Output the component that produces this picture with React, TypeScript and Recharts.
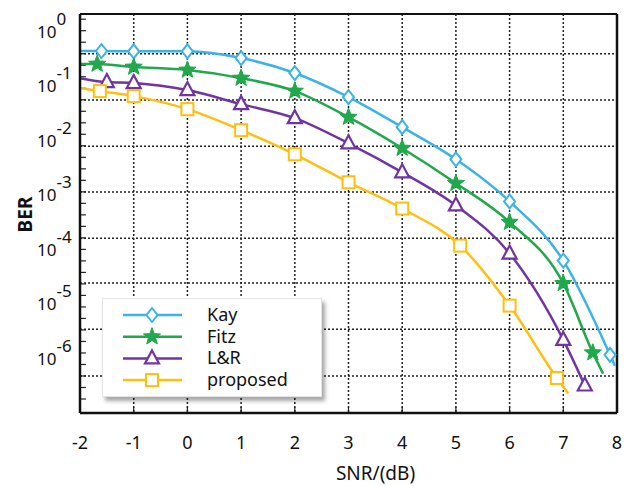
import { LineChart, Line, XAxis, YAxis, CartesianGrid, ReferenceLine, Legend, Label } from 'recharts';

const FONT = '"Noto Sans", "Open Sans", sans-serif';

// axis ticks
const snrTicks = [-2, -1, 0, 1, 2, 3, 4, 5, 6, 7, 8];
const berTicks = [1, 1e-1, 1e-2, 1e-3, 1e-4, 1e-5, 1e-6];
// dotted horizontal grid (log10 of BER), not aligned with the decade labels in the original
const gridExps = [-0.4, -1.25, -2.1, -2.94, -3.79, -4.61, -5.46, -6.32];

const BER_MIN = 1e-7;
const BER_MAX = Math.pow(10, 0.33);

// series values (first point = curve start, no marker)
const kaySnr = [-2, -1.6, -1, 0, 1, 2, 3, 4, 5, 6, 7, 7.87, 7.96];
const kayBer = [0.447, 0.447, 0.44, 0.44, 0.332, 0.176, 0.0635, 0.0178, 0.00458, 7.7e-4, 6.3e-5, 1.17e-6, 7.4e-7];

const fitzSnr = [-2, -1.68, -1, 0, 1, 2, 3, 4, 5, 6, 7, 7.55, 7.74];
const fitzBer = [0.257, 0.257, 0.227, 0.2, 0.142, 0.082, 0.0272, 0.0073, 0.00166, 3.2e-4, 2.4e-5, 1.28e-6, 5.3e-7];

const lrSnr = [-2, -1.5, -1, 0, 1, 2, 3, 4, 5, 6, 7, 7.4];
const lrBer = [0.142, 0.12, 0.115, 0.0855, 0.0472, 0.0261, 0.009, 0.00264, 6.5e-4, 8.5e-5, 2.2e-6, 3.2e-7];

const propSnr = [-2, -1.63, -1, 0, 1, 2, 3, 4, 5.08, 6, 6.88, 7.09];
const propBer = [0.0931, 0.0819, 0.0663, 0.0382, 0.0157, 0.00566, 0.00173, 5.7e-4, 1.19e-4, 9.4e-6, 4.4e-7, 2.3e-7];

const toPoints = (snr: number[], ber: number[]) => snr.map((s, i) => ({ snr: s, ber: ber[i] }));

const series = [
    { name: 'Kay', color: '#3bb3e6', marker: 'diamond', tailMark: false, data: toPoints(kaySnr, kayBer) },
    { name: 'Fitz', color: '#21a84c', marker: 'star', tailMark: false, data: toPoints(fitzSnr, fitzBer) },
    { name: 'L&R', color: '#7134a3', marker: 'triangle', tailMark: true, data: toPoints(lrSnr, lrBer) },
    { name: 'proposed', color: '#ffbf0f', marker: 'square', tailMark: false, data: toPoints(propSnr, propBer) },
];

function starPath(x: number, y: number, ro: number, ri: number) {
    const pts: string[] = [];
    for (let i = 0; i < 10; i++) {
        const r = i % 2 === 0 ? ro : ri;
        const a = -Math.PI / 2 + (i * Math.PI) / 5;
        pts.push(`${x + r * Math.cos(a)},${y + r * Math.sin(a)}`);
    }
    return 'M' + pts.join('L') + 'Z';
}

function Marker({ kind, x, y, color }: { kind: string; x: number; y: number; color: string }) {
    if (kind === 'diamond') {
        return <path d={`M${x},${y - 7}L${x + 5.5},${y}L${x},${y + 7}L${x - 5.5},${y}Z`} fill="#fff" stroke={color} strokeWidth={2} />;
    }
    if (kind === 'star') {
        return <path d={starPath(x, y, 9, 3.8)} fill={color} stroke={color} strokeWidth={1} />;
    }
    if (kind === 'triangle') {
        return <path d={`M${x},${y - 8}L${x + 7},${y + 5}L${x - 7},${y + 5}Z`} fill="#fff" stroke={color} strokeWidth={2.2} />;
    }
    return <rect x={x - 6} y={y - 6} width={12} height={12} fill="#fff" stroke={color} strokeWidth={2} />;
}

const makeDot = (s: (typeof series)[number]) => (props: any) => {
    const { cx, cy, index } = props;
    const last = s.data.length - 1;
    if (index === 0 || (index === last && !s.tailMark)) return <g key={`d-${s.name}-${index}`} />;
    return (
        <g key={`d-${s.name}-${index}`}>
            <Marker kind={s.marker} x={cx} y={cy} color={s.color} />
        </g>
    );
};

const BerTick = (props: any) => {
    const { x, y, payload } = props;
    const exp = Math.round(Math.log10(payload.value));
    return (
        <text x={x - 35} y={y} dy={6} fontSize={17} fill="#111" fontFamily={FONT}>
            10
            <tspan dy={-13}>{exp}</tspan>
        </text>
    );
};

const LegendBox = () => (
    <div
        style={{
            width: 220,
            height: 99,
            background: '#fff',
            border: '1px solid #e4e4e4',
            boxShadow: '3px 4px 4px rgba(0,0,0,0.35)',
            boxSizing: 'border-box',
        }}
    >
        <svg width={218} height={97}>
            {series.map((s, i) => {
                const y = 16 + i * 21.7;
                return (
                    <g key={s.name}>
                        <line x1={20} x2={79} y1={y} y2={y} stroke={s.color} strokeWidth={2.5} />
                        <Marker kind={s.marker} x={49} y={y} color={s.color} />
                        <text x={104} y={y} dy={6} fontSize={18} fill="#111" fontFamily={FONT}>
                            {s.name}
                        </text>
                    </g>
                );
            })}
        </svg>
    </div>
);

// short inward ticks on the left axis, a quarter grid apart
const gridStep = (gridExps[gridExps.length - 1] - gridExps[0]) / (gridExps.length - 1);
const minorExps: number[] = [];
for (let e = gridExps[0] + 3 * (gridStep / -4); e >= -6.95; e += gridStep / 4) minorExps.push(e);

export default function App() {
    return (
        <LineChart width={620} height={480} margin={{ top: 6, right: 11, left: 0, bottom: 0 }}>
            <CartesianGrid horizontal={false} stroke="#222" strokeDasharray="2 2" strokeWidth={1.5} />
            {gridExps.map((e) => (
                <ReferenceLine key={`g${e}`} y={Math.pow(10, e)} stroke="#222" strokeDasharray="2 2" strokeWidth={1.5} />
            ))}
            {minorExps.map((e) => (
                <ReferenceLine
                    key={`m${e}`}
                    segment={[{ x: -2, y: Math.pow(10, e) }, { x: -1.89, y: Math.pow(10, e) }]}
                    stroke="#222"
                    strokeWidth={1.2}
                />
            ))}
            {snrTicks.map((t) => (
                <ReferenceLine
                    key={`b${t}`}
                    segment={[{ x: t, y: BER_MIN }, { x: t, y: BER_MIN * Math.pow(10, 0.11) }]}
                    stroke="#222"
                    strokeWidth={1.2}
                />
            ))}
            <ReferenceLine y={BER_MAX} stroke="#111" strokeWidth={2} />
            <ReferenceLine x={8} stroke="#111" strokeWidth={2.5} />
            <XAxis
                dataKey="snr"
                type="number"
                domain={[-2, 8]}
                ticks={snrTicks}
                allowDataOverflow
                height={75}
                axisLine={{ stroke: '#111', strokeWidth: 2.5 }}
                tickLine={false}
                tickMargin={17}
                tick={{ fontSize: 18, fill: '#111', fontFamily: FONT }}
            >
                <Label
                    content={({ viewBox }: any) => (
                        <text
                            x={viewBox.x + viewBox.width / 2 + 27}
                            y={viewBox.y + 67}
                            textAnchor="middle"
                            fontSize={19}
                            fill="#111"
                            fontFamily={FONT}
                        >
                            SNR/(dB)
                        </text>
                    )}
                />
            </XAxis>
            <YAxis
                dataKey="ber"
                scale="log"
                type="number"
                domain={[BER_MIN, BER_MAX]}
                ticks={berTicks}
                allowDataOverflow
                width={72}
                axisLine={{ stroke: '#111', strokeWidth: 2.5 }}
                tickLine={false}
                tick={<BerTick />}
            >
                <Label
                    content={({ viewBox }: any) => {
                        const cx = 17;
                        const cy = viewBox.y + viewBox.height / 2 + 1;
                        return (
                            <text
                                x={cx}
                                y={cy}
                                transform={`rotate(-90 ${cx} ${cy})`}
                                textAnchor="middle"
                                dy={7}
                                fontSize={19}
                                fontWeight="bold"
                                fill="#111"
                                fontFamily={FONT}
                            >
                                BER
                            </text>
                        );
                    }}
                />
            </YAxis>
            {series.map((s) => (
                <Line
                    key={s.name}
                    data={s.data}
                    dataKey="ber"
                    name={s.name}
                    type="monotone"
                    stroke={s.color}
                    strokeWidth={2.5}
                    dot={makeDot(s)}
                    activeDot={false}
                    isAnimationActive={false}
                />
            ))}
            <Legend
                layout="vertical"
                align="center"
                verticalAlign="middle"
                content={<LegendBox />}
                wrapperStyle={{ left: 94, top: 290, width: 220, height: 99 }}
            />
        </LineChart>
    );
}
